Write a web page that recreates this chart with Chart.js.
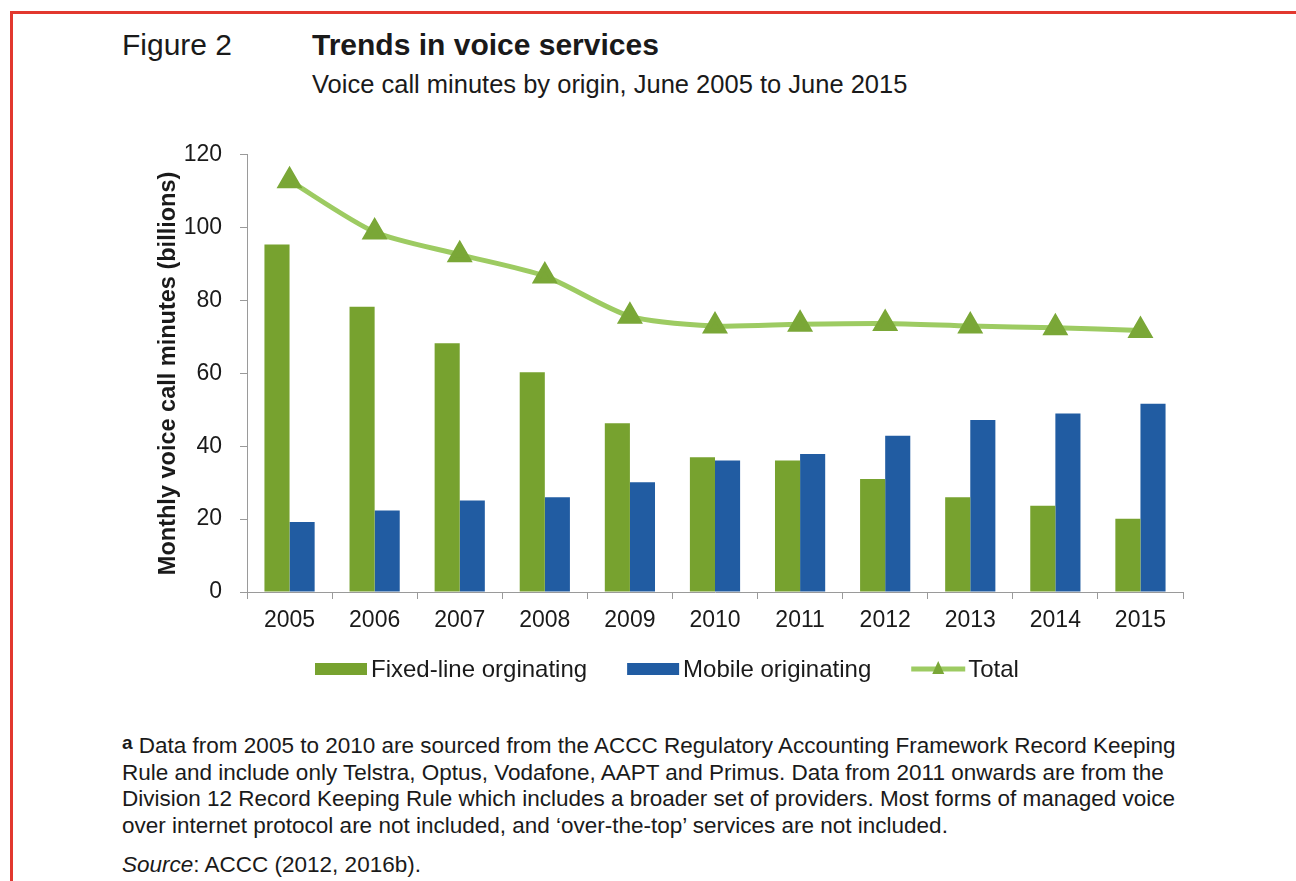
<!DOCTYPE html>
<html>
<head>
<meta charset="utf-8">
<script src="https://cdn.jsdelivr.net/npm/chart.js@4"></script>
<style>
    body { margin: 0; background: #fff; font-family: "Liberation Sans", Arial, sans-serif; color: #1a1a1a; }
    .frame { position: absolute; left: 10px; top: 11px; width: 1300px; height: 900px; border-top: 3px solid #e2382e; border-left: 3px solid #e2382e; }
    .fig { position: absolute; left: 122px; top: 28px; font-size: 30px; }
    .title { position: absolute; left: 312px; top: 28px; font-size: 30px; font-weight: bold; }
    .subtitle { position: absolute; left: 312px; top: 70px; font-size: 25.5px; }
    .chart-box { position: absolute; left: 140px; top: 123px; width: 1060px; height: 577px; }
    .note { position: absolute; left: 122px; top: 733px; font-size: 22.5px; line-height: 26.5px; }
    .note sup { font-weight: bold; font-size: 19px; vertical-align: 4px; line-height: 0; }
    .source { position: absolute; left: 122px; top: 852px; font-size: 22.5px; }
</style>
</head>
<body>
<div class="frame"></div>
<div class="fig">Figure 2</div>
<div class="title">Trends in voice services</div>
<div class="subtitle">Voice call minutes by origin, June 2005 to June 2015</div>
<div class="chart-box"><canvas id="voiceChart"></canvas></div>
<div class="note"><sup>a</sup> Data from 2005 to 2010 are sourced from the ACCC Regulatory Accounting Framework Record Keeping<br>Rule and include only Telstra, Optus, Vodafone, AAPT and Primus. Data from 2011 onwards are from the<br>Division 12 Record Keeping Rule which includes a broader set of providers. Most forms of managed voice<br>over internet protocol are not included, and ‘over-the-top’ services are not included.</div>
<div class="source"><i>Source</i>: ACCC (2012, 2016b).</div>

<script>
// Data
const years = ['2005', '2006', '2007', '2008', '2009', '2010', '2011', '2012', '2013', '2014', '2015'];
const fixedLine = [95.4, 78.3, 68.3, 60.3, 46.3, 37, 36.1, 31, 26, 23.7, 20.1];
const mobile = [19.2, 22.4, 25.1, 26, 30.1, 36.1, 37.9, 42.9, 47.2, 49, 51.7];
const total = [112.9, 98.8, 92.6, 86.7, 75.7, 73, 73.5, 73.7, 73, 72.5, 71.8];
const yTicks = [0, 20, 40, 60, 80, 100, 120];

const tickFont = { family: '"Liberation Sans", Arial, sans-serif', size: 23 };

// Legend drawn under the axis (line + triangle for Total)
const bottomLegend = {
    id: 'bottomLegend',
    afterDraw(chart) {
        const ctx = chart.ctx;
        const y = 546;
        let x = 175;
        ctx.save();
        ctx.font = '24px "Liberation Sans", Arial, sans-serif';
        ctx.textBaseline = 'middle';
        chart.data.datasets.forEach(ds => {
            if (ds.type === 'line') {
                ctx.strokeStyle = ds.borderColor;
                ctx.lineWidth = 5;
                ctx.beginPath();
                ctx.moveTo(x, y);
                ctx.lineTo(x + 54, y);
                ctx.stroke();
                ctx.fillStyle = ds.pointBackgroundColor;
                ctx.beginPath();
                ctx.moveTo(x + 27, y - 8);
                ctx.lineTo(x + 33, y + 5);
                ctx.lineTo(x + 21, y + 5);
                ctx.closePath();
                ctx.fill();
                x += 57;
            } else {
                ctx.fillStyle = ds.backgroundColor;
                ctx.fillRect(x, y - 6, 52, 12);
                x += 56;
            }
            ctx.fillStyle = '#1a1a1a';
            ctx.fillText(ds.label, x, y + 1);
            x += ctx.measureText(ds.label).width + 40;
        });
        ctx.restore();
    }
};

const voiceCtx = document.getElementById('voiceChart').getContext('2d');

new Chart(voiceCtx, {
    type: 'bar',
    data: {
        labels: years,
        datasets: [{
            label: 'Fixed-line orginating',
            data: fixedLine,
            backgroundColor: '#77a22f',
            order: 1
        }, {
            label: 'Mobile originating',
            data: mobile,
            backgroundColor: '#215ca2',
            order: 1
        }, {
            type: 'line',
            label: 'Total',
            data: total,
            borderColor: '#9dcb62',
            borderWidth: 5,
            tension: 0.25,
            pointStyle: 'triangle',
            pointRadius: 10,
            pointBackgroundColor: '#7aa737',
            pointBorderColor: '#7aa737',
            order: 0
        }]
    },
    options: {
        responsive: true,
        maintainAspectRatio: false,
        animation: false,
        datasets: {
            bar: { categoryPercentage: 0.59, barPercentage: 1 }
        },
        layout: { padding: { left: 0, right: 17, top: 13, bottom: 58 } },
        scales: {
            x: {
                grid: { offset: true, drawOnChartArea: false, drawTicks: true, tickLength: 7, color: '#9a9a9a' },
                border: { color: '#9a9a9a' },
                ticks: { color: '#1a1a1a', font: tickFont, padding: 8 },
                afterFit: scale => { scale.height = 50; }
            },
            y: {
                min: 0,
                max: 120,
                afterBuildTicks: scale => { scale.ticks = yTicks.map(v => ({ value: v })); },
                grid: { drawOnChartArea: false, drawTicks: true, tickLength: 7, color: '#9a9a9a' },
                border: { color: '#9a9a9a' },
                ticks: { color: '#1a1a1a', font: tickFont, padding: 18 },
                title: {
                    display: true,
                    text: 'Monthly voice call minutes (billions)',
                    color: '#1a1a1a',
                    font: { family: '"Liberation Sans", Arial, sans-serif', size: 23.5, weight: 'bold' },
                    padding: { top: 14, bottom: 0 }
                },
                afterFit: scale => { scale.width = 107; }
            }
        },
        plugins: {
            legend: { display: false },
            tooltip: { enabled: false }
        }
    },
    plugins: [bottomLegend]
});
</script>
</body>
</html>
